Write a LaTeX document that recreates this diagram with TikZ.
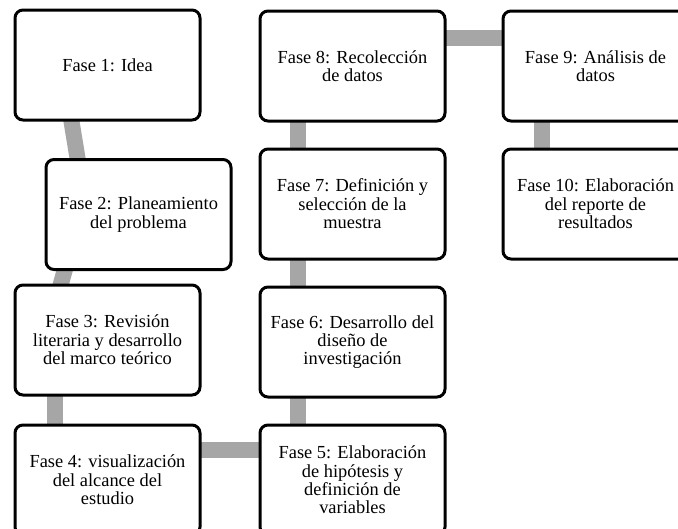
\documentclass[tikz,border=0pt]{standalone}
\usepackage{fontspec}
\setmainfont{Liberation Serif}
\usepackage{tikz}
\usetikzlibrary{positioning,backgrounds}
\definecolor{linkgray}{HTML}{A6A6A6}

\begin{document}
\begin{tikzpicture}[x=1pt, y=-1pt,
  phase/.style={rectangle, rounded corners=8pt, draw, line width=3pt, fill=white, minimum width=185pt, minimum height=110pt, align=center, inner sep=2pt, font=\fontsize{18.4pt}{18.4pt}\selectfont},
  link/.style={draw=linkgray, line width=16pt, shorten <=-8pt, shorten >=-8pt}]
\useasboundingbox (0,0) rectangle (678,528);
\clip (0,0) rectangle (678,528);

% Nodes
\node[phase] (idea) at (107.5,65) {Fase 1: Idea};
\node[phase] (planeamiento) at (138.5,214.5) {Fase 2: Planeamiento\\del problema};
\node[phase] (revision) at (107.5,340) {Fase 3: Revisión\\literaria y desarrollo\\del marco teórico};
\node[phase] (alcance) at (107.5,480) {Fase 4: visualización\\del alcance del\\estudio};
\node[phase, right=57pt of alcance] (hipotesis) {Fase 5: Elaboración\\de hipótesis y\\definición de\\variables};
\node[phase, above=25pt of hipotesis] (diseno) {Fase 6: Desarrollo del\\diseño de\\investigación};
\node[phase, above=25pt of diseno] (muestra) {Fase 7: Definición y\\selección de la\\muestra};
\node[phase, above=25pt of muestra] (recoleccion) {Fase 8: Recolección\\de datos};
\node[phase, right=55pt of recoleccion] (analisis) {Fase 9: Análisis de\\datos};
\node[phase, below=25pt of analisis] (reporte) {Fase 10: Elaboración\\del reporte de\\resultados};

% Edges
\begin{scope}[on background layer]
\draw[link] ([xshift=-36pt]idea.south) -- ([xshift=-61pt]planeamiento.north);
\draw[link] ([xshift=-74pt]planeamiento.south) -- ([xshift=-46.5pt]revision.north);
\draw[link] ([xshift=-53pt]revision.south) -- ([xshift=-53pt]alcance.north);
\draw[link] ([yshift=30pt]alcance.east) -- ([yshift=30pt]hipotesis.west);
\draw[link] ([xshift=-55pt]hipotesis.north) -- ([xshift=-55pt]diseno.south);
\draw[link] ([xshift=-55pt]diseno.north) -- ([xshift=-55pt]muestra.south);
\draw[link] ([xshift=-55pt]muestra.north) -- ([xshift=-55pt]recoleccion.south);
\draw[link] ([yshift=28pt]recoleccion.east) -- ([yshift=28pt]analisis.west);
\draw[link] ([xshift=-54pt]analisis.south) -- ([xshift=-54pt]reporte.north);
\end{scope}
\end{tikzpicture}
\end{document}
